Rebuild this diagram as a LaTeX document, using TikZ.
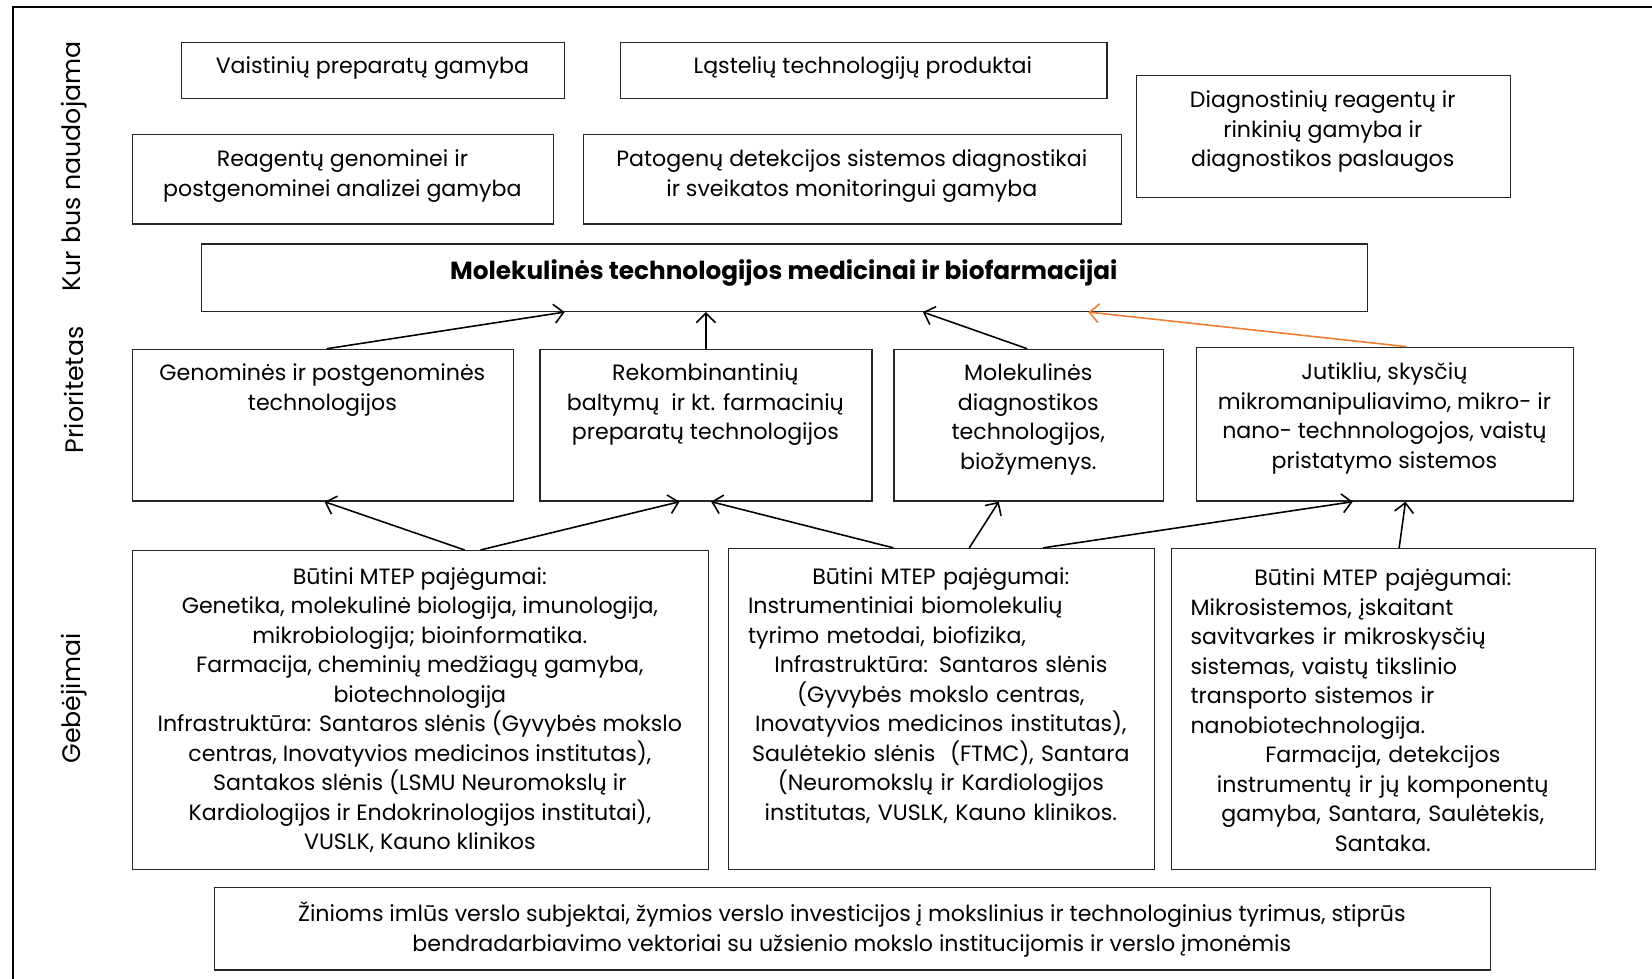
\documentclass[tikz,border=0pt]{standalone}
\usepackage{fontspec}
\setmainfont{Poppins}
\usetikzlibrary{arrows.meta}
\definecolor{arrorange}{HTML}{ED7D31}
\begin{document}
\begin{tikzpicture}[x=1pt,y=-1pt,
  box/.style={draw=black!85, line width=1.2pt, inner sep=0pt, anchor=north west},
  txt/.style={font=\fontsize{21}{28}\selectfont, align=center, inner sep=0pt},
  side/.style={font=\fontsize{24}{28}\selectfont, rotate=90, inner sep=0pt},
  arr/.style={-{Straight Barb[length=9pt,width=18pt]}, line width=1.5pt},
  frame/.style={line width=1.8pt}]
\useasboundingbox (0,0) rectangle (1568,929);
% outer frame (top and left)
\coordinate (ftr) at (1568,7);
\coordinate (ftl) at (12,7);
\coordinate (fbl) at (12,929);
\draw[frame] (ftr) -- (ftl) -- (fbl);
% side labels
\node[side] (lk) at (70,158) {Kur bus naudojama};
\node[side] (lp) at (70,370) {Prioritetas};
\node[side] (lg) at (70,663) {Gebėjimai};
% row 1
\node[box, minimum width=363pt, minimum height=53pt] (v1) at (172,40) {};
\node[txt] (v1t) at (353.5,65) {Vaistinių preparatų gamyba};
\node[box, minimum width=462pt, minimum height=53pt] (v2) at (588,40) {};
\node[txt] (v2t) at (819,65) {Ląstelių technologijų produktai};
\node[box, minimum width=355pt, minimum height=116pt] (dg) at (1078,71) {};
\node[txt] (dgt) at (1255.5,125) {Diagnostinių reagentų ir\\rinkinių gamyba ir\\diagnostikos paslaugos};
% row 2
\node[box, minimum width=400pt, minimum height=85pt] (rg) at (125,127) {};
\node[txt] (rgt) at (325,167) {Reagentų genominei ir\\postgenominei analizei gamyba};
\node[box, minimum width=511pt, minimum height=85pt] (pt) at (553,127) {};
\node[txt] (ptt) at (808.5,167) {Patogenų detekcijos sistemos diagnostikai\\ir sveikatos monitoringui gamyba};
% main
\node[box, minimum width=1106pt, minimum height=64pt] (mn) at (191,231) {};
\node[txt, font=\fontsize{23.5}{28}\selectfont\bfseries] (mnt) at (744,259) {Molekulinės technologijos medicinai ir biofarmacijai};
% priorities
\node[box, minimum width=362pt, minimum height=144pt] (p1) at (125,331) {};
\node[txt] (p1t) at (306,370) {Genominės ir postgenominės\\technologijos};
\node[box, minimum width=315pt, minimum height=144pt] (p2) at (512,331) {};
\node[txt] (p2t) at (669.5,384) {Rekombinantinių\\baltymų\ \ ir kt. farmacinių\\preparatų technologijos};
\node[box, minimum width=256pt, minimum height=144pt] (p3) at (848,331) {};
\node[txt] (p3t) at (976,398) {Molekulinės\\diagnostikos\\technologijos,\\biožymenys.};
\node[box, minimum width=358pt, minimum height=146pt] (p4) at (1135,329) {};
\node[txt] (p4t) at (1314,397) {Jutikliu, skysčių\\mikromanipuliavimo, mikro- ir\\nano- technnologojos, vaistų\\pristatymo sistemos};
% capabilities
\node[box, minimum width=547pt, minimum height=303pt] (c1) at (125,522) {};
\node[txt] (c1t) at (398.5,674) {Būtini MTEP pajėgumai:\\Genetika, molekulinė biologija, imunologija,\\mikrobiologija; bioinformatika.\\Farmacija, cheminių medžiagų gamyba,\\biotechnologija\\Infrastruktūra: Santaros slėnis (Gyvybės mokslo\\centras, Inovatyvios medicinos institutas),\\Santakos slėnis (LSMU Neuromokslų ir\\Kardiologijos ir Endokrinologijos institutai),\\VUSLK, Kauno klinikos};
\node[box, minimum width=404pt, minimum height=305pt] (c2) at (691,520) {};
\node[txt, text width=366pt] (c2t) at (893,660) {Būtini MTEP pajėgumai:\\\makebox[\linewidth][l]{Instrumentiniai biomolekulių}\\\makebox[\linewidth][l]{tyrimo metodai, biofizika,}\\Infrastruktūra: Santaros slėnis\\(Gyvybės mokslo centras,\\Inovatyvios medicinos institutas),\\Saulėtekio slėnis\ \ (FTMC), Santara\\(Neuromokslų ir Kardiologijos\\institutas, VUSLK, Kauno klinikos.};
\node[box, minimum width=403pt, minimum height=305pt] (c3) at (1111,520) {};
\node[txt, text width=365pt] (c3t) at (1312.5,674) {Būtini MTEP pajėgumai:\\\makebox[\linewidth][l]{Mikrosistemos, įskaitant}\\\makebox[\linewidth][l]{savitvarkes ir mikroskysčių}\\\makebox[\linewidth][l]{sistemas, vaistų tikslinio}\\\makebox[\linewidth][l]{transporto sistemos ir}\\\makebox[\linewidth][l]{nanobiotechnologija.}\\Farmacija, detekcijos\\instrumentų ir jų komponentų\\gamyba, Santara, Saulėtekis,\\Santaka.};
% bottom
\node[box, minimum width=1211pt, minimum height=78pt] (bt) at (203,842) {};
\node[txt] (btt) at (808.5,882) {Žinioms imlūs verslo subjektai, žymios verslo investicijos į mokslinius ir technologinius tyrimus, stiprūs\\bendradarbiavimo vektoriai su užsienio mokslo institucijomis ir verslo įmonėmis};
% arrows to main
\draw[arr] ([xshift=185pt]p1.north west) -- ([xshift=345pt]mn.south west);
\draw[arr] ([xshift=158pt]p2.north west) -- ([xshift=479pt]mn.south west);
\draw[arr] ([xshift=127pt]p3.north west) -- ([xshift=685pt]mn.south west);
\draw[arr, draw=arrorange] ([xshift=200pt]p4.north west) -- ([xshift=842pt]mn.south west);
% arrows to priorities
\draw[arr] ([xshift=316pt]c1.north west) -- ([xshift=183pt]p1.south west);
\draw[arr] ([xshift=331pt]c1.north west) -- ([xshift=133pt]p2.south west);
\draw[arr] ([xshift=157pt]c2.north west) -- ([xshift=163pt]p2.south west);
\draw[arr] ([xshift=229pt]c2.north west) -- ([xshift=100pt]p3.south west);
\draw[arr] ([xshift=299pt]c2.north west) -- ([xshift=149pt]p4.south west);
\draw[arr] ([xshift=217pt]c3.north west) -- ([xshift=199pt]p4.south west);
\end{tikzpicture}
\end{document}
